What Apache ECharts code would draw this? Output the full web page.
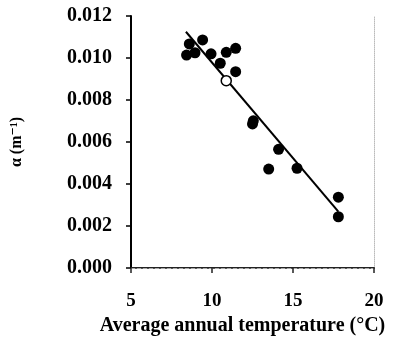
<!DOCTYPE html>
<html>
<head>
<meta charset="utf-8">
<script src="https://cdn.jsdelivr.net/npm/echarts@6/dist/echarts.min.js"></script>
<style>
  html, body { margin: 0; padding: 0; background: #fff; }
  #chart { width: 396px; height: 341px; }
</style>
</head>
<body>
<div id="chart"></div>
<script>
// filled points: [temperature, alpha]
const filledPoints = [
  [8.43, 0.01014], [8.6, 0.01067], [8.95, 0.01025], [9.42, 0.01086],
  [9.94, 0.0102], [10.51, 0.00975], [10.88, 0.01027], [11.46, 0.01046],
  [11.46, 0.00935], [12.55, 0.00701], [12.5, 0.00686], [13.5, 0.00471],
  [14.11, 0.00565], [15.25, 0.00475], [17.8, 0.00337], [17.8, 0.00244]
];
const openPoints = [[10.88, 0.00892]];
const fitLine = [[8.39, 0.01125], [17.8, 0.00268]];

const xTicks = [5, 10, 15, 20];
const yTicks = [0, 0.002, 0.004, 0.006, 0.008, 0.010, 0.012];

const font = '"Liberation Serif", "DejaVu Serif", serif';

const chart = echarts.init(document.getElementById('chart'));

const option = {
  backgroundColor: '#ffffff',
  animation: false,
  grid: { left: 131, right: 22, top: 16, bottom: 73 },
  xAxis: [
    {
      type: 'value',
      min: xTicks[0],
      max: xTicks[xTicks.length - 1],
      interval: 5,
      name: 'Average annual temperature (°C)',
      nameLocation: 'middle',
      nameGap: 47,
      nameTextStyle: {
        fontFamily: font, fontWeight: 'bold', fontSize: 20, color: '#000',
        padding: [0, 20, 0, 0]
      },
      axisLine: { lineStyle: { color: '#222', width: 2 } },
      axisTick: { show: true, inside: false, length: 5, lineStyle: { color: '#222', width: 1.5 } },
      axisLabel: { fontFamily: font, fontWeight: 'bold', fontSize: 19, color: '#000', margin: 24 },
      splitLine: { show: false }
    },
    {
      type: 'value',
      position: 'top',
      min: xTicks[0],
      max: xTicks[xTicks.length - 1],
      axisLine: { show: true, lineStyle: { color: '#aaa', width: 1, type: 'dashed' } },
      axisTick: { show: false },
      axisLabel: { show: false },
      splitLine: { show: false }
    }
  ],
  yAxis: [
    {
      type: 'value',
      min: yTicks[0],
      max: yTicks[yTicks.length - 1],
      interval: 0.002,
      name: 'α (m⁻¹)',
      nameLocation: 'middle',
      nameGap: 106,
      nameTextStyle: { fontFamily: font, fontWeight: 'bold', fontSize: 16, color: '#000' },
      axisLine: { show: true, lineStyle: { color: '#000', width: 2 } },
      axisTick: { show: true, inside: false, length: 5, lineStyle: { color: '#000', width: 1.5 } },
      axisLabel: {
        fontFamily: font, fontWeight: 'bold', fontSize: 20, color: '#000', margin: 19,
        formatter: v => v.toFixed(3)
      },
      splitLine: { show: false }
    },
    {
      type: 'value',
      position: 'right',
      min: yTicks[0],
      max: yTicks[yTicks.length - 1],
      axisLine: { show: true, lineStyle: { color: '#bbb', width: 1, type: 'dotted' } },
      axisTick: { show: false },
      axisLabel: { show: false },
      splitLine: { show: false }
    }
  ],
  series: [
    {
      type: 'line',
      data: fitLine,
      symbol: 'none',
      lineStyle: { color: '#000', width: 2 },
      z: 1
    },
    {
      type: 'scatter',
      data: filledPoints,
      symbol: 'circle',
      symbolSize: 11,
      itemStyle: { color: '#000', opacity: 1 },
      z: 2
    },
    {
      type: 'scatter',
      data: openPoints,
      symbol: 'circle',
      symbolSize: 10,
      itemStyle: { color: '#fff', borderColor: '#000', borderWidth: 1.5, opacity: 1 },
      z: 3
    }
  ]
};

chart.setOption(option);
</script>
</body>
</html>
